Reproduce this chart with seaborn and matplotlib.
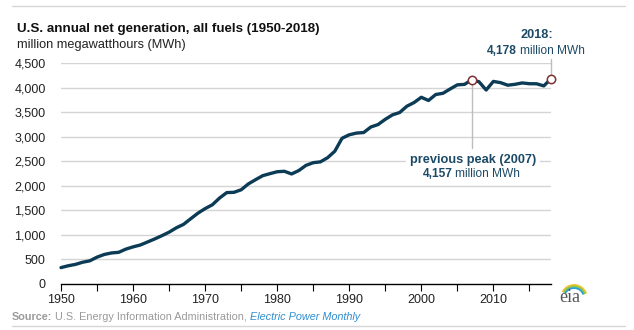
import matplotlib
matplotlib.use("Agg")
import matplotlib.pyplot as plt
import matplotlib.patches as mpatches
import seaborn as sns
import pandas as pd
import numpy as np

# ---- data (million MWh) ----
years = list(range(1950, 2019))
generation = [334, 371, 399, 443, 472, 547, 601, 632, 645, 710,
              756, 794, 855, 917, 984, 1055, 1144, 1214, 1329, 1442,
              1535, 1613, 1750, 1861, 1867, 1918, 2038, 2124, 2206, 2247,
              2286, 2295, 2241, 2310, 2416, 2470, 2487, 2572, 2704, 2967,
              3038, 3073, 3084, 3197, 3247, 3353, 3444, 3492, 3620, 3695,
              3802, 3737, 3858, 3883, 3971, 4055, 4065, 4157, 4119, 3950,
              4125, 4100, 4048, 4066, 4094, 4078, 4077, 4034, 4178]
highlight_years = [2007, 2018]
y_ticks = [0, 500, 1000, 1500, 2000, 2500, 3000, 3500, 4000, 4500]
x_ticks = [1950, 1960, 1970, 1980, 1990, 2000, 2010]

df = pd.DataFrame({"year": years, "gen": generation})
hl = df[df["year"].isin(highlight_years)]

sns.set_style("white")
plt.rcParams["font.family"] = ["Liberation Sans", "DejaVu Sans"]

W, H = 634, 330
fig = plt.figure(figsize=(W / 100, H / 100), dpi=100)
ax = fig.add_axes([61 / W, 46 / H, 490 / W, 221 / H])

LINE = "#0c3b56"
TXT = "#1c4a66"
MK = "#7e2f32"

sns.lineplot(data=df, x="year", y="gen", ax=ax, color=LINE, lw=2.4,
             clip_on=False, zorder=3)
ax.scatter(hl["year"], hl["gen"], s=36, facecolor="white", edgecolor=MK,
           linewidth=1.1, zorder=5, clip_on=False)

ax.set_xlim(1950, 2018)
ax.set_ylim(0, 4500)
ax.set_yticks(y_ticks)
ax.set_yticklabels([f"{v:,}" for v in y_ticks])
ax.set_xticks(x_ticks)
ax.set_xticklabels([str(v) for v in x_ticks])
ax.set_xticks(list(range(1955, 2018, 10)), minor=True)
ax.set_xlabel("")
ax.set_ylabel("")

for v in y_ticks[1:]:
    ax.axhline(v, color="#d4d4d4", lw=1, zorder=1)
ax.grid(False)
for s in ["top", "right", "left"]:
    ax.spines[s].set_visible(False)
ax.spines["bottom"].set_color("black")
ax.spines["bottom"].set_linewidth(1.0)
ax.tick_params(axis="y", length=0, pad=11, labelsize=9, labelcolor="#222222")
ax.tick_params(axis="x", which="both", direction="out", length=5, width=0.8,
               color="black", pad=2, labelsize=9, labelcolor="#222222", bottom=True)

# leader lines
p07 = hl[hl["year"] == 2007].iloc[0]
p18 = hl[hl["year"] == 2018].iloc[0]
ax.plot([p07["year"], p07["year"]], [p07["gen"], 2770], color="#bdbdbd", lw=1, zorder=2)
ax.plot([p18["year"], p18["year"]], [p18["gen"] + 40, 4590], color="#bdbdbd",
        lw=1, zorder=2, clip_on=False)

def ftxt(x, y, s, **kw):
    return fig.text(x / W, 1 - y / H, s, **kw)

# titles
ftxt(17, 29, "U.S. annual net generation, all fuels (1950-2018)", fontsize=9.6,
     fontweight="bold", color="#111111", va="center")
ftxt(17, 45, "million megawatthours (MWh)", fontsize=9.2, color="#222222", va="center")

# annotations
ftxt(473, 160, "previous peak (2007)", fontsize=9.2, fontweight="bold", color=TXT,
     ha="center", va="center",
     bbox=dict(facecolor="white", edgecolor="none", pad=3))
ftxt(453, 174, "4,157", fontsize=8.6, fontweight="bold", color=TXT, ha="right", va="center")
ftxt(455, 174, "million MWh", fontsize=8.6, color=TXT, ha="left", va="center")

ftxt(537, 35, "2018:", fontsize=9.2, fontweight="bold", color=TXT, ha="center", va="center")
ftxt(517, 51, "4,178", fontsize=8.6, fontweight="bold", color=TXT, ha="right", va="center")
ftxt(520, 51, "million MWh", fontsize=8.6, color=TXT, ha="left", va="center")

# source line, pieces chained by measured width
renderer = fig.canvas.get_renderer()
x = 12
pieces = [("Source:", dict(fontweight="bold", color="#9a9a9a")),
          ("U.S. Energy Information Administration,", dict(color="#9a9a9a")),
          ("Electric Power Monthly", dict(style="italic", color="#2f8fd0"))]
for s, kw in pieces:
    t = ftxt(x, 317, s, fontsize=7.8, va="center", **kw)
    bb = t.get_window_extent(renderer=renderer)
    x += bb.width + 3

# rules
fig.add_artist(plt.Line2D([12 / W, 625 / W], [1 - 6 / H, 1 - 6 / H], color="#d6d6d6", lw=1))
fig.add_artist(plt.Line2D([12 / W, 625 / W], [1 - 326 / H, 1 - 326 / H], color="#d6d6d6", lw=1))

# eia logo
ftxt(570, 297, "eia", fontsize=13, family=["Liberation Serif", "DejaVu Serif"],
     color="#555555", ha="center", va="center")
for r, c in [(13, "#f2c12e"), (11.5, "#8cc63f"), (10, "#2a9fd6")]:
    arc = mpatches.Arc((574 / W, 1 - 298 / H), 2 * r / W, 2 * r / H, theta1=35,
                       theta2=135, color=c, lw=1.3, transform=fig.transFigure)
    fig.add_artist(arc)

fig.savefig("out.png", dpi=100)
